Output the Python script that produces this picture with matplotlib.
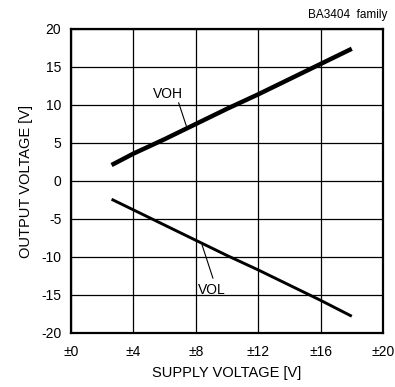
import matplotlib
matplotlib.use("Agg")
import matplotlib.pyplot as plt

plt.rcParams["font.family"] = ["Liberation Sans", "DejaVu Sans"]
plt.rcParams["axes.unicode_minus"] = False

# values
supply = [2.6, 4, 6, 8, 10, 12, 14, 16, 18]
voh = [2.1, 3.6, 5.5, 7.5, 9.5, 11.4, 13.4, 15.4, 17.4]
vol = [-2.4, -3.8, -5.8, -7.8, -9.8, -11.7, -13.7, -15.7, -17.8]
xticks = [0, 4, 8, 12, 16, 20]
xlabels = ["±0", "±4", "±8", "±12", "±16", "±20"]
yticks = [-20, -15, -10, -5, 0, 5, 10, 15, 20]

fig = plt.figure(figsize=(3.95, 3.87), dpi=100)
ax = fig.add_axes([71 / 395, 1 - 333 / 387, 312 / 395, 304 / 387])

ax.plot(supply, voh, color="black", lw=3.2, solid_capstyle="butt")
ax.plot(supply, vol, color="black", lw=2.1, solid_capstyle="butt")

ax.set_xlim(0, 20); ax.set_ylim(-20, 20)
ax.set_xticks(xticks); ax.set_xticklabels(xlabels)
ax.set_yticks(yticks)
ax.grid(color="black", lw=0.9)
ax.tick_params(length=0, labelsize=10)
ax.tick_params(axis="x", pad=9)
ax.tick_params(axis="y", pad=7)
for s in ax.spines.values():
    s.set_linewidth(1.6)

# callouts
ax.text(6.2, 11.4, "VOH", fontsize=10, ha="center", va="center")
ax.annotate("", xy=(7.4, 7.2), xytext=(6.9, 10.3),
            arrowprops=dict(arrowstyle="-", color="black", lw=0.8, shrinkA=0, shrinkB=0))
ax.text(9.0, -14.3, "VOL", fontsize=10, ha="center", va="center")
ax.annotate("", xy=(8.4, -8.4), xytext=(9.1, -12.8),
            arrowprops=dict(arrowstyle="-", color="black", lw=0.8, shrinkA=0, shrinkB=0))

ax.set_xlabel("SUPPLY VOLTAGE [V]", fontsize=10.5, labelpad=5)
ax.set_ylabel("OUTPUT VOLTAGE [V]", fontsize=10.5, labelpad=6)
fig.text(387 / 395, 1 - 15 / 387, "BA3404  family", fontsize=8.5, ha="right", va="center")

fig.savefig("out.png", dpi=100)
